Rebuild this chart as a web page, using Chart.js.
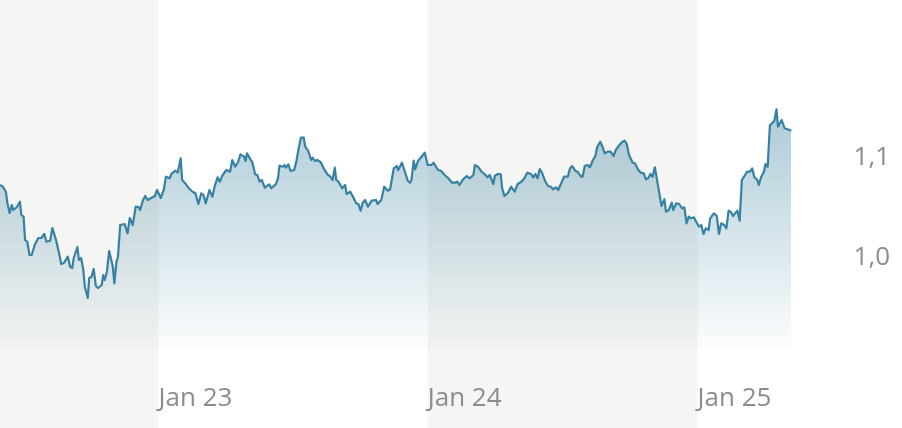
<!DOCTYPE html>
<html>
<head>
<meta charset="utf-8">
<script src="https://cdn.jsdelivr.net/npm/chart.js@4.4.1/dist/chart.umd.min.js"></script>
<style>
  html, body { margin: 0; padding: 0; background: #fff; }
  #wrap { width: 902px; height: 428px; position: relative; }
</style>
</head>
<body>
<div id="wrap"><canvas id="rateChart"></canvas></div>
<script>
// EUR/USD, days counted from the first point (31 May 2022)
var startDate = "2022-05-31";
var dayOffsets = [
  0, 4, 8, 10, 13, 16, 18, 23, 27, 29, 32, 34, 37, 40, 43, 47, 52, 56, 60, 63,
  68, 71, 76, 80, 83, 87, 92, 95, 98, 100, 105, 107, 110, 113, 115, 119, 121, 124, 127, 130,
  133, 138, 140, 142, 145, 148, 153, 155, 158, 160, 163, 169, 173, 176, 180, 184, 188, 190, 194, 197,
  200, 205, 210, 213, 218, 222, 225, 230, 233, 238, 241, 245, 247, 252, 256, 261, 265, 269, 273, 276,
  279, 284, 288, 291, 295, 298, 302, 307, 312, 315, 319, 323, 326, 331, 333, 335, 340, 342, 346, 349,
  352, 355, 359, 365, 368, 374, 377, 379, 384, 386, 388, 391, 394, 399, 402, 405, 408, 412, 414, 418,
  422, 424, 427, 430, 435, 439, 444, 448, 451, 454, 456, 459, 464, 468, 470, 475, 479, 483, 486, 489,
  492, 495, 499, 504, 510, 512, 517, 521, 526, 529, 534, 538, 540, 545, 549, 553, 556, 558, 561, 563,
  567, 571, 576, 580, 585, 588, 594, 598, 603, 608, 613, 617, 620, 623, 628, 633, 637, 642, 644, 648,
  653, 657, 661, 664, 669, 671, 675, 679, 681, 684, 689, 693, 698, 702, 707, 711, 715, 720, 723, 726,
  729, 732, 735, 739, 743, 747, 750, 754, 757, 761, 765, 770, 773, 776, 780, 783, 788, 790, 793, 797,
  800, 804, 807, 810, 814, 817, 820, 824, 828, 832, 835, 840, 844, 847, 850, 853, 858, 861, 865, 869,
  873, 876, 879, 882, 885, 888, 891, 894, 897, 901, 903, 907, 911, 913, 917, 921, 925, 928, 931, 934,
  937, 941, 944, 948, 951, 954, 957, 961, 963, 968, 972, 975, 978, 982, 985, 988, 991, 994, 997, 1000,
  1003, 1006, 1009, 1013, 1017, 1020, 1023, 1027, 1029, 1032, 1036, 1038, 1041, 1044, 1047, 1050, 1053, 1055, 1057, 1060,
  1064, 1068, 1073
];
var rates = [
  1.0730, 1.0713, 1.0663, 1.0550, 1.0450, 1.0530, 1.0480, 1.0510, 1.0563, 1.0430, 1.0413, 1.0180, 1.0163, 1.0030, 1.0030, 1.0130, 1.0200, 1.0200, 1.0240, 1.0163,
  1.0173, 1.0300, 1.0180, 1.0050, 0.9940, 0.9953, 1.0013, 0.9913, 0.9900, 1.0000, 1.0110, 0.9980, 1.0000, 0.9880, 0.9713, 0.9600, 0.9800, 0.9810, 0.9890, 0.9720,
  0.9700, 0.9730, 0.9830, 0.9780, 0.9863, 1.0070, 0.9913, 0.9747, 0.9963, 1.0013, 1.0330, 1.0340, 1.0247, 1.0400, 1.0330, 1.0513, 1.0510, 1.0480, 1.0580, 1.0620,
  1.0580, 1.0600, 1.0620, 1.0680, 1.0600, 1.0680, 1.0813, 1.0797, 1.0847, 1.0873, 1.0853, 1.0997, 1.0780, 1.0740, 1.0697, 1.0663, 1.0647, 1.0540, 1.0647, 1.0630,
  1.0547, 1.0680, 1.0613, 1.0713, 1.0807, 1.0763, 1.0830, 1.0880, 1.0863, 1.0980, 1.0913, 1.0963, 1.1037, 1.1013, 1.0970, 1.1047, 1.0980, 1.0963, 1.0837, 1.0830,
  1.0763, 1.0780, 1.0703, 1.0737, 1.0697, 1.0737, 1.0797, 1.0923, 1.0913, 1.0930, 1.0903, 1.0937, 1.0870, 1.0880, 1.0970, 1.1097, 1.1203, 1.1203, 1.1113, 1.1070,
  1.0980, 1.1003, 1.0970, 1.0980, 1.0957, 1.0897, 1.0837, 1.0813, 1.0780, 1.0903, 1.0780, 1.0763, 1.0697, 1.0730, 1.0640, 1.0663, 1.0607, 1.0547, 1.0540, 1.0473,
  1.0553, 1.0580, 1.0513, 1.0573, 1.0580, 1.0540, 1.0580, 1.0713, 1.0673, 1.0687, 1.0897, 1.0920, 1.0880, 1.0953, 1.0863, 1.0773, 1.0753, 1.0780, 1.0973, 1.0887,
  1.0973, 1.1007, 1.1053, 1.0930, 1.0930, 1.0953, 1.0880, 1.0873, 1.0830, 1.0797, 1.0753, 1.0753, 1.0763, 1.0730, 1.0787, 1.0820, 1.0797, 1.0830, 1.0930, 1.0913,
  1.0863, 1.0840, 1.0807, 1.0830, 1.0740, 1.0820, 1.0840, 1.0840, 1.0697, 1.0620, 1.0653, 1.0713, 1.0663, 1.0740, 1.0763, 1.0797, 1.0853, 1.0840, 1.0807, 1.0840,
  1.0797, 1.0890, 1.0853, 1.0773, 1.0720, 1.0713, 1.0687, 1.0707, 1.0680, 1.0747, 1.0813, 1.0813, 1.0897, 1.0920, 1.0873, 1.0863, 1.0813, 1.0813, 1.0920, 1.0930,
  1.0907, 1.0980, 1.1013, 1.1113, 1.1163, 1.1113, 1.1047, 1.1063, 1.1063, 1.1020, 1.1080, 1.1130, 1.1163, 1.1173, 1.1140, 1.1030, 1.0953, 1.0947, 1.0887, 1.0853,
  1.0847, 1.0787, 1.0797, 1.0840, 1.0813, 1.0907, 1.0780, 1.0647, 1.0520, 1.0587, 1.0463, 1.0480, 1.0553, 1.0480, 1.0547, 1.0540, 1.0497, 1.0507, 1.0347, 1.0413,
  1.0397, 1.0407, 1.0363, 1.0313, 1.0330, 1.0240, 1.0297, 1.0280, 1.0397, 1.0447, 1.0420, 1.0240, 1.0347, 1.0330, 1.0297, 1.0473, 1.0463, 1.0420, 1.0447, 1.0473,
  1.0373, 1.0780, 1.0813, 1.0863, 1.0863, 1.0897, 1.0807, 1.0780, 1.0730, 1.0807, 1.0863, 1.0940, 1.0913, 1.1330, 1.1347, 1.1373, 1.1487, 1.1313, 1.1340, 1.1380,
  1.1297, 1.1287, 1.1273
];
var tickDates = ["2023-01-01", "2024-01-01", "2025-01-01"];
var tickLabels = ["Jan 23", "Jan 24", "Jan 25"];
var yTicks = [1.0, 1.1];

var DAY = 86400000;
var t0 = Date.parse(startDate);
var tickTimes = tickDates.map(function (d) { return Date.parse(d); });
var points = dayOffsets.map(function (d, i) {
    return { x: t0 + d * DAY, y: rates[i] };
});

var LINE = "rgb(55,130,162)";
var BAND = "#f5f5f3";
var TEXT = "#8c8c8c";

// grey bands for every other year, full canvas height
var yearBands = {
    id: "yearBands",
    beforeDraw: function (chart) {
        var ctx = chart.ctx;
        var x = chart.scales.x;
        var area = chart.chartArea;
        var edges = [x.min].concat(tickTimes).concat([x.max]);
        ctx.save();
        ctx.fillStyle = BAND;
        for (var i = 0; i < edges.length - 1; i += 2) {
            var a = x.getPixelForValue(edges[i]);
            var b = x.getPixelForValue(edges[i + 1]);
            a = Math.max(a, area.left);
            b = Math.min(b, area.right);
            ctx.fillRect(a, 0, b - a, chart.height);
        }
        ctx.restore();
    }
};

function noPadding(scale) {
    scale.paddingTop = 0;
    scale.paddingBottom = 0;
    scale.paddingLeft = 0;
    scale.paddingRight = 0;
}

var ctx = document.getElementById("rateChart");
var chart = new Chart(ctx, {
    type: "line",
    data: {
        datasets: [
            {
                data: points,
                borderColor: LINE,
                borderWidth: 2.2,
                borderJoinStyle: "round",
                pointRadius: 0,
                tension: 0,
                fill: "start",
                backgroundColor: function (c) {
                    var area = c.chart.chartArea;
                    if (!area) return "rgba(58,130,160,0.3)";
                    var g = c.chart.ctx.createLinearGradient(0, area.top, 0, area.bottom);
                    g.addColorStop(0, "rgba(58,130,160,0.6)");
                    g.addColorStop(1, "rgba(58,130,160,0.02)");
                    return g;
                },
            },
        ],
    },
    options: {
        responsive: true,
        maintainAspectRatio: false,
        animation: false,
        layout: { padding: { left: 0, top: 0, right: 12, bottom: 0 } },
        plugins: {
            legend: { display: false },
            tooltip: { enabled: false },
        },
        scales: {
            x: {
                type: "linear",
                min: t0,
                max: t0 + 1074 * DAY,
                grid: { display: false, drawTicks: false },
                border: { display: false },
                afterBuildTicks: function (scale) {
                    scale.ticks = tickTimes.map(function (v) { return { value: v }; });
                },
                afterFit: function (scale) {
                    scale.height = 80;
                    noPadding(scale);
                },
                ticks: {
                    autoSkip: false,
                    maxRotation: 0,
                    align: "start",
                    padding: 35,
                    color: TEXT,
                    font: { family: "'Open Sans'", size: 26 },
                    callback: function (v) {
                        var i = tickTimes.indexOf(v);
                        return i >= 0 ? tickLabels[i] : "";
                    },
                },
            },
            y: {
                position: "right",
                min: 0.91,
                max: 1.258,
                grid: { display: false, drawTicks: false },
                border: { display: false },
                afterBuildTicks: function (scale) {
                    scale.ticks = yTicks.map(function (v) { return { value: v }; });
                },
                afterFit: function (scale) {
                    scale.width = 98;
                    noPadding(scale);
                },
                ticks: {
                    crossAlign: "far",
                    color: TEXT,
                    font: { family: "'Open Sans'", size: 26 },
                    callback: function (v) {
                        return v.toFixed(1).replace(".", ",");
                    },
                },
            },
        },
    },
    plugins: [yearBands],
});
</script>
</body>
</html>
